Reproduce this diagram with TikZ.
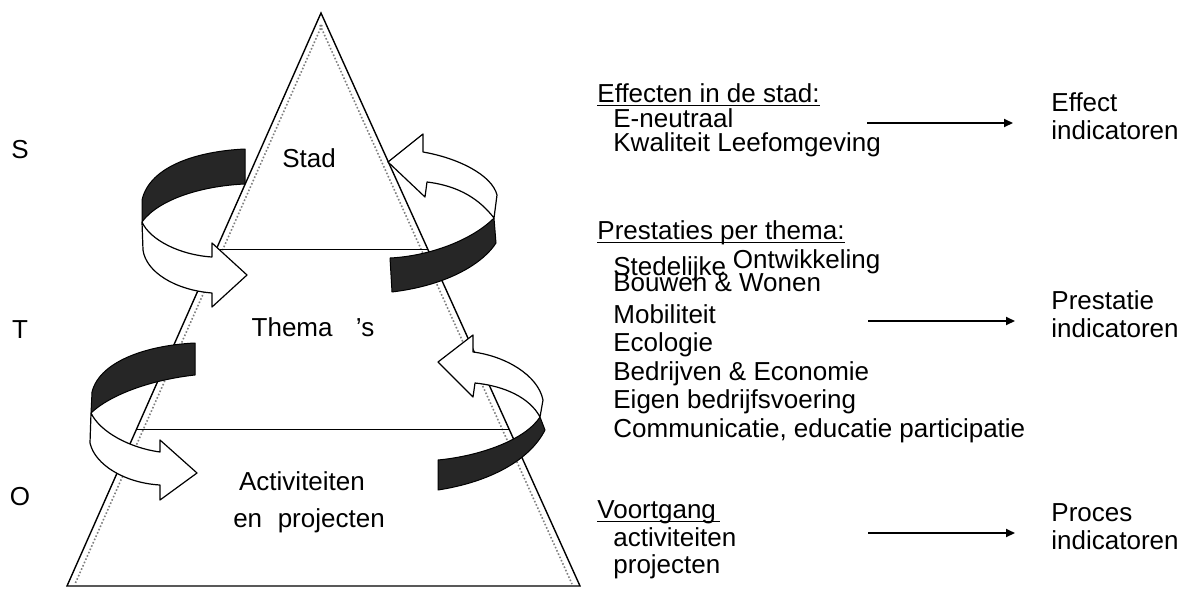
\documentclass[tikz,border=0pt]{standalone}
\usepackage{fontspec}
\setmainfont{Liberation Sans}
\usetikzlibrary{arrows.meta,calc,positioning}
\tikzset{
	lbl/.style={font=\fontsize{13}{15}\selectfont, inner sep=0pt},
	txt/.style={lbl, anchor=base west},
	uline/.style={line width=.6pt},
	ribbonback/.style={fill=black!85, draw=black, line width=.5pt, line join=round},
	ribbonfront/.style={fill=white, draw=black, line width=.6pt, line join=round},
	indarrow/.style={line width=1pt, -{Triangle[length=4.5pt,width=4pt]}},
}
\begin{document}
\begin{tikzpicture}[x=.5pt,y=-.5pt]
	\useasboundingbox (0,0) rectangle (1183,589);
	% pyramid
	\coordinate (top) at (321,13);
	\coordinate (bl) at (67,586);
	\coordinate (br) at (580,586);
	\draw [line width=.7pt] (top) -- (bl) -- (br) -- cycle;
	\draw [gray, densely dotted, line width=.8pt] ($(top)+(1,12)$) -- ($(bl)+(8,-2)$);
	\draw [gray, densely dotted, line width=.8pt] ($(top)+(-1,12)$) -- ($(br)+(-8,-2)$);
	\coordinate (l1) at ($(top)!.4136!(bl)$);
	\coordinate (r1) at ($(top)!.4136!(br)$);
	\coordinate (l2) at ($(top)!.7277!(bl)$);
	\coordinate (r2) at ($(top)!.7277!(br)$);
	\draw [line width=.5pt] (l1) -- (r1);
	\draw [line width=.5pt] (l2) -- (r2);
	\node [lbl] (stad) at (309,158) {Stad};
	\node [lbl] (themas) at (313,327) {Thema\hspace{.9em}’s};
	\node [lbl] (activ) at (302,481) {Activiteiten};
	\node [lbl] (enproj) at (309,521) {en\hspace{.6em}projecten};
	\foreach \n/\l/\y in {s/S/150, t/T/330, o/O/497} {
		\node [lbl] (lvl\n) at (20,\y) {\l};
	}
	% turning arrows
	\draw [ribbonback]  (245,149) .. controls (200,151) and (150,165) .. (142,200) -- (142,222) .. controls (158,200) and (200,186) .. (245,184) -- cycle;
	\draw [ribbonfront] (142,222) .. controls (150,240) and (180,255) .. (212,257) -- (212,243) -- (247,275) -- (212,307) -- (212,293) .. controls (175,290) and (146,272) .. (143,250) -- cycle;
	\draw [ribbonback]  (390,258) .. controls (430,256) and (472,240) .. (494,218) -- (496,243) .. controls (484,262) and (450,285) .. (392,292) -- cycle;
	\draw [ribbonfront] (494,218) .. controls (480,200) and (460,186) .. (427,182) -- (425,197) -- (388,162) -- (423,134) -- (423,152) .. controls (458,158) and (492,175) .. (497,195) -- cycle;
	\draw [ribbonback]  (195,343) .. controls (150,345) and (100,360) .. (92,392) -- (91,413) .. controls (110,395) and (150,380) .. (195,375) -- cycle;
	\draw [ribbonfront] (91,413) .. controls (100,432) and (130,448) .. (160,452) -- (160,440) -- (197,473) -- (160,500) -- (160,485) .. controls (125,483) and (95,465) .. (90,443) -- cycle;
	\draw [ribbonback]  (438,460) .. controls (480,456) and (525,440) .. (540,417) -- (545,430) .. controls (530,460) and (490,482) .. (438,490) -- cycle;
	\draw [ribbonfront] (473,352) .. controls (505,356) and (538,375) .. (543,400) -- (540,417) .. controls (530,398) and (505,386) .. (475,383) -- (473,397) -- (438,362) -- (473,335) -- cycle;
	% effects
	\node [txt] (effhead) at (597,102) {Effecten in de stad:};
	\draw [uline] ([yshift=-1.6pt]effhead.base west) -- ([yshift=-1.6pt]effhead.base east);
	\node [txt] (eneutr) at (613,127) {E-neutraal};
	\node [txt] (kwal) at (613,151) {Kwaliteit Leefomgeving};
	\coordinate (effa) at (867,123);
	\coordinate (effb) at (1013,123);
	\draw [indarrow] (effa) -- (effb);
	\node [txt] (effect) at (1051,111) {Effect};
	\node [txt] (effind) at (1051,139) {indicatoren};
	% themes
	\node [txt] (prshead) at (597,239) {Prestaties per thema:};
	\draw [uline] ([yshift=-1.6pt]prshead.base west) -- ([yshift=-1.6pt]prshead.base east);
	\node [txt] (sted) at (613,275) {Stedelijke};
	\node [txt] (ontw) at ($(sted.base east)+(6,-7)$) {Ontwikkeling};
	\node [txt] (bouw) at (613,291) {Bouwen \& Wonen};
	\foreach \t [count=\i] in {Mobiliteit, Ecologie, Bedrijven \& Economie, Eigen bedrijfsvoering, {Communicatie, educatie participatie}} {
		\node [txt] (thema\i) at (613,{294.5+28.5*\i}) {\t};
	}
	\coordinate (prsa) at (868,321);
	\coordinate (prsb) at (1015,321);
	\draw [indarrow] (prsa) -- (prsb);
	\node [txt] (prst) at (1051,309) {Prestatie};
	\node [txt] (prstind) at (1051,337) {indicatoren};
	% progress
	\node [txt] (vrtg) at (597,518) {Voortgang};
	\draw [uline] ([yshift=-1.6pt]vrtg.base west) -- ([xshift=2pt,yshift=-1.6pt]vrtg.base east);
	\node [txt] (vact) at (613,546) {activiteiten};
	\node [txt] (vproj) at (613,573) {projecten};
	\coordinate (vrta) at (868,533);
	\coordinate (vrtb) at (1015,533);
	\draw [indarrow] (vrta) -- (vrtb);
	\node [txt] (proc) at (1051,521) {Proces};
	\node [txt] (procind) at (1051,549) {indicatoren};
\end{tikzpicture}
\end{document}
